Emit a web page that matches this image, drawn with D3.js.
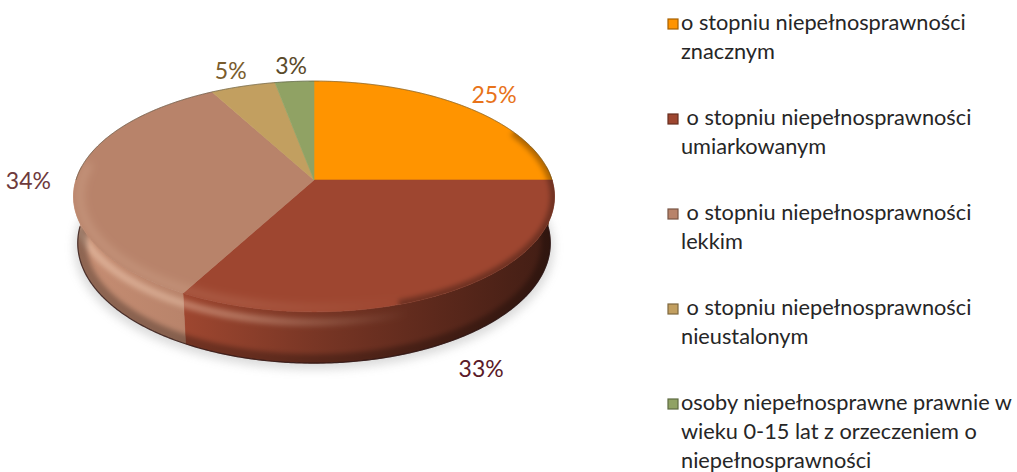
<!DOCTYPE html>
<html><head><meta charset="utf-8">
<script src="https://cdn.jsdelivr.net/npm/d3@7"></script>
<style>html,body{margin:0;padding:0;background:#fff}svg{display:block}</style>
</head><body>
<svg id="chart" width="1017" height="472"></svg>
<script>
// ---- data ----
const categories = [
  "o stopniu niepełnosprawności\nznacznym",
  " o stopniu niepełnosprawności\numiarkowanym",
  " o stopniu niepełnosprawności\nlekkim",
  " o stopniu niepełnosprawności\nnieustalonym",
  "osoby niepełnosprawne prawnie w\nwieku 0-15 lat z orzeczeniem o\nniepełnosprawności"
];
const values = [25, 33, 34, 5, 3];
const valueLabels = ["25%", "33%", "34%", "5%", "3%"];
const sliceColors = ["#FF9400", "#9E4630", "#B8836A", "#C29F60", "#90A264"];
const labelColors = ["#E8731A", "#5A1A28", "#6E3A3C", "#7A5C2C", "#5A4A2A"];

// ---- setup ----
const svg = d3.select("#chart");
const defs = svg.append("defs");
const FONT = "Lato, 'Open Sans', sans-serif";

// perspective projection of the pie disc
const cx = 314, cy = 180, focal = 1466, dist = 6.16;
const sinP = 0.475, cosP = Math.sqrt(1 - sinP * sinP), depth = 0.225;
function proj(a, r, h) {
  const u = r * Math.sin(a), v = r * Math.cos(a);
  const yc = v * sinP + h * cosP, zc = dist + v * cosP - h * sinP;
  return [cx + focal * u / zc, cy - focal * yc / zc];
}
function arcPts(a0, a1, r, h) {
  const n = Math.max(2, Math.ceil(Math.abs(a1 - a0) / 0.01));
  return d3.range(n + 1).map(i => proj(a0 + (a1 - a0) * i / n, r, h));
}
const line = d3.line();

const pie = d3.pie().sort(null).value(d => d);
const arcs = pie(values);
const color = d3.scaleOrdinal().domain(d3.range(values.length)).range(sliceColors);

// filters
function addBlur(id, sd) {
  defs.append("filter").attr("id", id).attr("x", "-20%").attr("y", "-20%")
    .attr("width", "140%").attr("height", "140%")
    .append("feGaussianBlur").attr("stdDeviation", sd);
}
addBlur("blur", 5); addBlur("blur2", 2.5); addBlur("blur3", 4);

const xLeft = proj(-Math.PI / 2, 1, 0)[0], xRight = proj(Math.PI / 2, 1, 0)[0];

// fading highlight gradient (left -> transparent towards right)
const hl = defs.append("linearGradient").attr("id", "hl").attr("gradientUnits", "userSpaceOnUse")
  .attr("x1", xLeft).attr("x2", xRight).attr("y1", 0).attr("y2", 0);
hl.append("stop").attr("offset", 0).attr("stop-color", "#ffe0c8").attr("stop-opacity", 0.4);
hl.append("stop").attr("offset", 0.35).attr("stop-color", "#ffe0c8").attr("stop-opacity", 0.3);
hl.append("stop").attr("offset", 0.7).attr("stop-color", "#ffe0c8").attr("stop-opacity", 0);

// shadow
svg.append("path")
  .attr("d", line(arcPts(0, 2 * Math.PI, 1.015, -depth)) + "Z")
  .attr("transform", "translate(0,4)")
  .attr("fill", "#9a9a9a").attr("opacity", 0.35).attr("filter", "url(#blur)");

// side faces
const frontA0 = Math.PI / 2 - 0.12, frontA1 = 1.5 * Math.PI + 0.12;
const sideG = svg.append("g");
arcs.forEach((d, i) => {
  const a0 = Math.max(d.startAngle, frontA0), a1 = Math.min(d.endAngle, frontA1);
  if (a1 <= a0) return;
  const c = d3.color(color(i));
  const g = defs.append("linearGradient").attr("id", "side" + i)
    .attr("gradientUnits", "userSpaceOnUse")
    .attr("x1", xLeft).attr("x2", xRight).attr("y1", 0).attr("y2", 0);
  g.append("stop").attr("offset", 0).attr("stop-color", c.brighter(0.2));
  g.append("stop").attr("offset", 0.22).attr("stop-color", c.brighter(0.02));
  g.append("stop").attr("offset", 0.5).attr("stop-color", c.darker(0.75));
  g.append("stop").attr("offset", 0.75).attr("stop-color", c.darker(1.5));
  g.append("stop").attr("offset", 1).attr("stop-color", c.darker(2.5));
  const pts = arcPts(a0, a1, 1, 0).concat(arcPts(a1, a0, 1, -depth));
  sideG.append("path").attr("d", line(pts) + "Z").attr("fill", `url(#side${i})`)
    .attr("stroke", `url(#side${i})`).attr("stroke-width", 0.6);
});

// side shading: rim highlight and bottom darkening, clipped to the side band
const sideClip = defs.append("clipPath").attr("id", "sideClip");
sideClip.append("path").attr("d",
  line(arcPts(frontA0, frontA1, 1, 0).concat(arcPts(frontA1, frontA0, 1, -depth))) + "Z");
const shade = svg.append("g").attr("clip-path", "url(#sideClip)");
shade.append("path").attr("d", line(arcPts(Math.PI * 0.6, Math.PI * 1.55, 1, -0.045)))
  .attr("fill", "none").attr("stroke", "url(#hl)")
  .attr("stroke-width", 8).attr("filter", "url(#blur2)");
shade.append("path").attr("d", line(arcPts(Math.PI * 0.5, Math.PI * 1.5, 1, -depth)))
  .attr("fill", "none").attr("stroke", "#000").attr("stroke-opacity", 0.28)
  .attr("stroke-width", 18).attr("filter", "url(#blur2)");

// bottom outline
svg.append("path").attr("d", line(arcPts(Math.PI * 0.5, Math.PI * 1.5, 1, -depth)))
  .attr("fill", "none").attr("stroke", "#2a1414").attr("stroke-opacity", 0.75).attr("stroke-width", 1.2);

// top faces
const topG = svg.append("g");
arcs.forEach((d, i) => {
  const pts = [proj(0, 0, 0)].concat(arcPts(d.startAngle, d.endAngle, 1, 0));
  topG.append("path").attr("d", line(pts) + "Z").attr("fill", color(i))
    .attr("stroke", color(i)).attr("stroke-width", 0.6);
});

// top face bevel at front rim
const topClip = defs.append("clipPath").attr("id", "topClip");
topClip.append("path").attr("d", line(arcPts(0, 2 * Math.PI, 1, 0)) + "Z");
const bevel = svg.append("g").attr("clip-path", "url(#topClip)");
bevel.append("path").attr("d", line(arcPts(Math.PI * 0.6, Math.PI * 1.55, 0.975, 0)))
  .attr("fill", "none").attr("stroke", "url(#hl)").attr("stroke-opacity", 0.45)
  .attr("stroke-width", 8).attr("filter", "url(#blur3)");
bevel.append("path").attr("d", line(arcPts(Math.PI * 0.35, Math.PI * 0.9, 1.0, 0)))
  .attr("fill", "none").attr("stroke", "#000").attr("stroke-opacity", 0.3)
  .attr("stroke-width", 9).attr("filter", "url(#blur2)");
// top back outline
svg.append("path").attr("d", line(arcPts(-Math.PI * 0.5, Math.PI * 0.5, 1, 0)))
  .attr("fill", "none").attr("stroke", "#4a4a3a").attr("stroke-opacity", 0.5).attr("stroke-width", 1);

// value labels
arcs.forEach((d, i) => {
  const mid = (d.startAngle + d.endAngle) / 2;
  const front = Math.cos(mid) < -0.5;
  const p = proj(mid, 1.2, front ? -depth : 0);
  svg.append("text").attr("x", p[0]).attr("y", p[1])
    .attr("text-anchor", "middle").attr("dominant-baseline", "central")
    .attr("font-family", FONT).attr("font-size", 23)
    .attr("fill", labelColors[i]).text(valueLabels[i]);
});

// legend
const legend = svg.append("g");
const probe = legend.append("text").attr("font-family", FONT).attr("font-size", 100)
  .text(categories[0].split("\n")[0]);
const legFont = 100 * 285 / probe.node().getComputedTextLength();
probe.remove();
const legY = d3.scaleLinear().domain([0, 1]).range([30, 125]);
categories.forEach((cat, i) => {
  const y0 = legY(i);
  legend.append("rect").attr("x", 668).attr("y", y0 - 11).attr("width", 10).attr("height", 10)
    .attr("fill", color(i)).attr("stroke", d3.color(color(i)).darker(1.2)).attr("stroke-width", 1.2);
  const t = legend.append("text").attr("font-family", FONT).attr("font-size", legFont)
    .attr("fill", "#262626").style("white-space", "pre");
  cat.split("\n").forEach((ln, j) => {
    t.append("tspan").attr("x", 681).attr("y", y0 + j * 29).text(ln);
  });
});
</script>
</body></html>
